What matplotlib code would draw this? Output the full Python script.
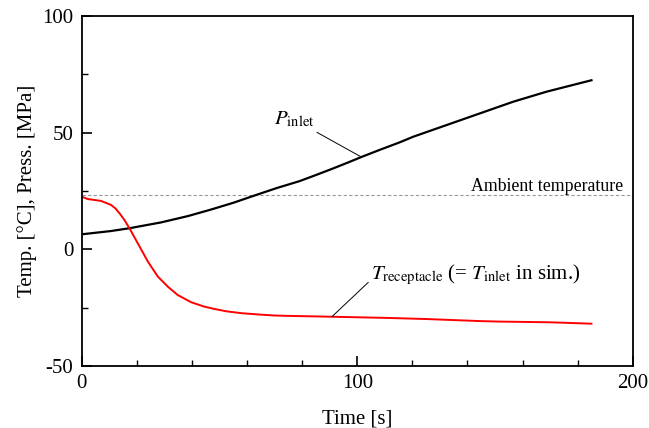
import matplotlib
matplotlib.use("Agg")
import matplotlib.pyplot as plt
import numpy as np

# Data
t_p = [0, 10.6, 17.3, 28.8, 38.5, 46.9, 55, 63.4, 71, 79.1, 85, 91.2, 96.5, 102.1, 108.2, 115.4,
       120.3, 132.4, 144.5, 156.6, 168.7, 177, 185]
p_inlet = [6.4, 7.8, 9.0, 11.5, 14.2, 17.0, 19.9, 23.3, 26.3, 29.2, 31.8, 34.6, 37.1, 39.8, 42.6, 45.8,
           48.2, 53.2, 58.2, 63.2, 67.5, 70.0, 72.4]

t_t = [0, 2.2, 7, 10.6, 12.2, 13.7, 15.5, 17.3, 20.3, 24, 27.6, 31.2, 34.8, 39.7, 44.5, 48.2,
       52.5, 58, 64.7, 70, 76.8, 90, 110, 125, 133.8, 145, 152, 170, 185]
t_rec = [22.5, 21.5, 20.7, 19.0, 17.5, 15.4, 12.5, 9.0, 2.6, -5.3, -11.7, -16.0, -19.6, -22.7, -24.6, -25.6,
         -26.6, -27.4, -28.0, -28.4, -28.6, -28.9, -29.4, -29.9, -30.3, -30.8, -31.0, -31.3, -31.9]

ambient = 23.3

plt.rcParams['font.family'] = ['Liberation Serif', 'DejaVu Serif']
plt.rcParams['mathtext.fontset'] = 'stix'
plt.rcParams['axes.unicode_minus'] = False

fig = plt.figure(figsize=(6.49, 4.28), dpi=100)
ax = fig.add_axes([0.126, 0.145, 0.849, 0.818])

ax.axhline(ambient, color='#999999', lw=0.8, ls=(0, (3, 2)))
ax.plot(t_p, p_inlet, color='black', lw=1.6, solid_joinstyle='round')
ax.plot(t_t, t_rec, color='#ff0000', lw=1.4, solid_joinstyle='round')

ax.set_xlim(0, 200)
ax.set_ylim(-50, 100)
ax.set_xticks([0, 100, 200])
ax.set_xticks(np.arange(0, 201, 20), minor=True)
ax.set_yticks([-50, 0, 50, 100])
ax.set_yticks(np.arange(-50, 101, 25), minor=True)
ax.tick_params(which='major', direction='in', length=7, width=1.2, labelsize=15, pad=6)
ax.tick_params(which='minor', direction='in', length=4, width=1.0)
for s in ax.spines.values():
    s.set_linewidth(1.3)

ax.set_xlabel('Time [s]', fontsize=15, labelpad=12)
ax.set_ylabel('Temp. [°C], Press. [MPa]', fontsize=15, labelpad=4)

ax.text(196.5, 27.0, 'Ambient temperature', fontsize=12.8, ha='right', va='center')

ax.annotate(r'$P_{\rm inlet}$', xy=(101.5, 39.5), xytext=(84.5, 55.5),
            fontsize=15, ha='right', va='center',
            arrowprops=dict(arrowstyle='-', color='black', lw=0.7, shrinkA=0, shrinkB=0))

ax.annotate(r'$T_{\rm receptacle}$ (= $T_{\rm inlet}$ in sim.)', xy=(90.8, -28.9), xytext=(105, -11),
            fontsize=15, ha='left', va='center',
            arrowprops=dict(arrowstyle='-', color='black', lw=0.7, shrinkA=0, shrinkB=0,
                            relpos=(0, 0.3)))

fig.savefig('out.png', dpi=100)
